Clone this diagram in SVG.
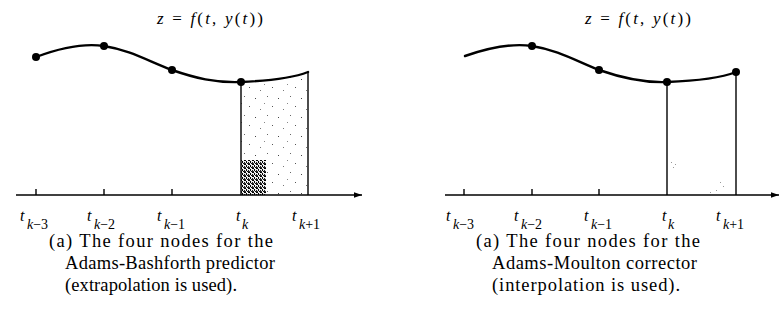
<svg xmlns="http://www.w3.org/2000/svg" width="781" height="325" viewBox="0 0 781 325">
<style>
.curve{fill:none;stroke:#000;stroke-width:2.4;stroke-linecap:round}
.axis{fill:none;stroke:#000;stroke-width:1.6}
.vline{fill:none;stroke:#000;stroke-width:1.4}
.tick{stroke:#000;stroke-width:1.4}
.dot{fill:#000}
.ttl{font-family:"Liberation Serif","DejaVu Serif",serif;font-size:17px;fill:#000}
.lab{font-family:"Liberation Serif","DejaVu Serif",serif;font-size:16px;fill:#000}
.sub{font-family:"Liberation Serif","DejaVu Serif",serif;font-size:14px;fill:#000}
.cap{font-family:"Liberation Serif","DejaVu Serif",serif;font-size:18.5px;fill:#000}
.it{font-style:italic}
</style>
<defs>
<marker id="arr" viewBox="0 0 10 10" refX="10" refY="5" markerWidth="8" markerHeight="8" markerUnits="userSpaceOnUse" orient="auto">
<path d="M0,1.5 L10,5 L0,8.5 Z" fill="#000"/>
</marker>
<pattern id="light" width="23" height="19" patternUnits="userSpaceOnUse">
<rect x="2" y="3" width="1" height="1" fill="#444"/>
<rect x="14" y="1" width="1" height="1" fill="#666"/>
<rect x="19" y="11" width="1" height="1" fill="#555"/>
<rect x="7" y="14" width="1" height="1" fill="#777"/>
<rect x="11" y="8" width="1" height="1" fill="#888"/>
</pattern>
<pattern id="dark" width="4" height="4" patternUnits="userSpaceOnUse">
<rect width="4" height="4" fill="#eee"/>
<rect x="0" y="0" width="2" height="1" fill="#000"/>
<rect x="2" y="1" width="1" height="2" fill="#000"/>
<rect x="0" y="2" width="1" height="2" fill="#222"/>
<rect x="3" y="3" width="1" height="1" fill="#111"/>
<rect x="1" y="3" width="1" height="1" fill="#333"/>
</pattern>
</defs>

<g id="panel-left">
<text class="ttl" x="157" y="24" textLength="106" lengthAdjust="spacing"><tspan class="it">z</tspan> = <tspan class="it">f</tspan>(<tspan class="it">t</tspan>, <tspan class="it">y</tspan>(<tspan class="it">t</tspan>))</text>
<g id="shade-left">
<path d="M241,82 C265,81 290,79 308,72 L308,195 L241,195 Z" fill="url(#light)"/>
<rect x="241" y="160" width="25" height="35" fill="url(#dark)"/>
</g>
<g id="connectors-left">
<path class="curve" d="M36,57 C60,48 84,43 104,46 C130,50 150,62 172,70 C195,78 215,83 241,82 C265,81 290,79 308,72"/>
<line class="vline" x1="241" y1="82" x2="241" y2="195"/>
<line class="vline" x1="308" y1="72" x2="308" y2="195"/>
<line class="axis" x1="16" y1="195" x2="362" y2="195" marker-end="url(#arr)"/>
<line class="tick" x1="36" y1="189" x2="36" y2="195"/>
<line class="tick" x1="104" y1="189" x2="104" y2="195"/>
<line class="tick" x1="172" y1="189" x2="172" y2="195"/>
</g>
<g id="node-l-k3"><circle class="dot" cx="36" cy="57" r="4"/><text class="lab" x="20" y="221"><tspan class="it">t</tspan><tspan class="sub" x="27" y="229"><tspan class="it">k</tspan>−3</tspan></text></g>
<g id="node-l-k2"><circle class="dot" cx="104" cy="46" r="4"/><text class="lab" x="87" y="221"><tspan class="it">t</tspan><tspan class="sub" x="94" y="229"><tspan class="it">k</tspan>−2</tspan></text></g>
<g id="node-l-k1"><circle class="dot" cx="172" cy="70" r="4"/><text class="lab" x="157" y="221"><tspan class="it">t</tspan><tspan class="sub" x="164" y="229"><tspan class="it">k</tspan>−1</tspan></text></g>
<g id="node-l-k"><circle class="dot" cx="241" cy="82" r="4"/><text class="lab" x="236" y="221"><tspan class="it">t</tspan><tspan class="sub it" x="242" y="229">k</tspan></text></g>
<g id="node-l-k+1"><text class="lab" x="292" y="221"><tspan class="it">t</tspan><tspan class="sub" x="299" y="229"><tspan class="it">k</tspan>+1</tspan></text></g>
<g id="caption-left">
<text class="cap" x="49" y="247" textLength="224" lengthAdjust="spacing">(a) The four nodes for the</text>
<text class="cap" x="65" y="269" textLength="210" lengthAdjust="spacing">Adams-Bashforth predictor</text>
<text class="cap" x="65" y="291" textLength="172" lengthAdjust="spacing">(extrapolation is used).</text>
</g>
</g>

<g id="panel-right">
<text class="ttl" x="585" y="24" textLength="106" lengthAdjust="spacing"><tspan class="it">z</tspan> = <tspan class="it">f</tspan>(<tspan class="it">t</tspan>, <tspan class="it">y</tspan>(<tspan class="it">t</tspan>))</text>
<g id="specks-right" fill="#999">
<rect x="671" y="162" width="1" height="1"/><rect x="675" y="164" width="1" height="1"/><rect x="673" y="167" width="1" height="1"/>
<rect x="720" y="182" width="1" height="1"/><rect x="723" y="186" width="1" height="1"/><rect x="716" y="190" width="1" height="1"/><rect x="710" y="192" width="1" height="1"/>
</g>
<g id="connectors-right">
<path class="curve" d="M465,56 C488,48 512,43 532,46 C558,50 578,62 599,70 C622,78 643,83 667,82 C693,81 718,79 736,72"/>
<line class="vline" x1="667" y1="82" x2="667" y2="195"/>
<line class="vline" x1="736" y1="72" x2="736" y2="195"/>
<line class="axis" x1="445" y1="195" x2="779" y2="195" marker-end="url(#arr)"/>
<line class="tick" x1="464" y1="189" x2="464" y2="195"/>
<line class="tick" x1="532" y1="189" x2="532" y2="195"/>
<line class="tick" x1="599" y1="189" x2="599" y2="195"/>
</g>
<g id="node-r-k3"><text class="lab" x="446" y="221"><tspan class="it">t</tspan><tspan class="sub" x="453" y="229"><tspan class="it">k</tspan>−3</tspan></text></g>
<g id="node-r-k2"><circle class="dot" cx="532" cy="46" r="4"/><text class="lab" x="514" y="221"><tspan class="it">t</tspan><tspan class="sub" x="521" y="229"><tspan class="it">k</tspan>−2</tspan></text></g>
<g id="node-r-k1"><circle class="dot" cx="599" cy="70" r="4"/><text class="lab" x="584" y="221"><tspan class="it">t</tspan><tspan class="sub" x="591" y="229"><tspan class="it">k</tspan>−1</tspan></text></g>
<g id="node-r-k"><circle class="dot" cx="667" cy="82" r="4"/><text class="lab" x="662" y="221"><tspan class="it">t</tspan><tspan class="sub it" x="668" y="229">k</tspan></text></g>
<g id="node-r-k+1"><circle class="dot" cx="736" cy="72" r="4"/><text class="lab" x="716" y="221"><tspan class="it">t</tspan><tspan class="sub" x="723" y="229"><tspan class="it">k</tspan>+1</tspan></text></g>
<g id="caption-right">
<text class="cap" x="476" y="247" textLength="224" lengthAdjust="spacing">(a) The four nodes for the</text>
<text class="cap" x="492" y="269" textLength="205" lengthAdjust="spacing">Adams-Moulton corrector</text>
<text class="cap" x="492" y="291" textLength="188" lengthAdjust="spacing">(interpolation is used).</text>
</g>
</g>
</svg>
